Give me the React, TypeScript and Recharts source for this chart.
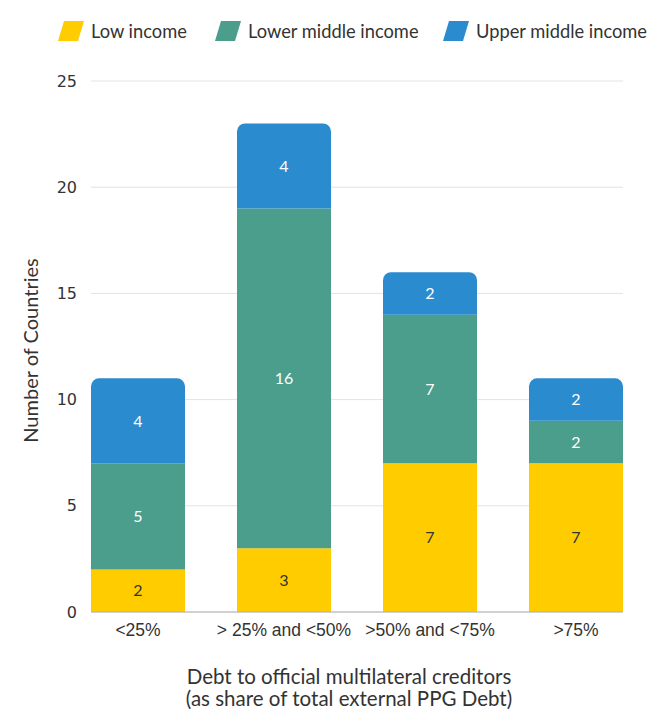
import React from 'react';
import { BarChart, Bar, XAxis, YAxis, CartesianGrid, LabelList } from 'recharts';

const categories = ['<25%', '> 25% and <50%', '>50% and <75%', '>75%'];
const lowIncome = [2, 3, 7, 7];
const lowerMiddle = [5, 16, 7, 2];
const upperMiddle = [4, 4, 2, 2];
const yTicks = [0, 5, 10, 15, 20, 25];

const seriesInfo = [
  { key: 'low', name: 'Low income', color: '#FFCC00', text: '#333333' },
  { key: 'lower', name: 'Lower middle income', color: '#4A9E8B', text: '#ffffff' },
  { key: 'upper', name: 'Upper middle income', color: '#2A8BCF', text: '#ffffff' },
];

const FONT = 'Lato, "Noto Sans", sans-serif';

export default function App() {
  const data = categories.map((c, i) => ({
    name: c,
    low: lowIncome[i],
    lower: lowerMiddle[i],
    upper: upperMiddle[i],
  }));

  const legendX = [50, 207, 435];

  return (
    <div style={{ position: 'relative', width: 650, height: 714, fontFamily: FONT }}>
      <div style={{ position: 'absolute', top: 0, left: 0, width: 650, height: 50 }}>
        {seriesInfo.map((s, i) => (
          <div
            key={s.key}
            style={{ position: 'absolute', left: legendX[i], top: 12, display: 'flex', alignItems: 'center' }}
          >
            <svg width={26} height={20} style={{ marginRight: 7 }}>
              <polygon points="6,0 26,0 20,20 0,20" fill={s.color} />
            </svg>
            <span style={{ fontSize: 18.3, color: '#333', whiteSpace: 'nowrap' }}>{s.name}</span>
          </div>
        ))}
      </div>
      <BarChart
        width={650}
        height={714}
        data={data}
        margin={{ top: 73, right: 35, bottom: 0, left: 0 }}
        style={{ fontFamily: FONT }}
      >
        <CartesianGrid vertical={false} stroke="#e3e3e3" />
        <XAxis
          dataKey="name"
          height={110}
          padding={{ left: -26, right: -26 }}
          axisLine={{ stroke: '#b0b0b0' }}
          tickLine={false}
          tickSize={0}
          tickMargin={12}
          tick={{ fontSize: 17.5, fill: '#333', fontFamily: '"Liberation Sans", Arial, sans-serif' }}
          label={({ viewBox }: any) => (
            <text
              x={341}
              y={viewBox.y + 72}
              textAnchor="middle"
              fontSize={20.5}
              fill="#333"
              fontFamily={FONT}
            >
              <tspan x={341} dy={0}>Debt to official multilateral creditors</tspan>
              <tspan x={341} dy={22}>(as share of total external PPG Debt)</tspan>
            </text>
          )}
        />
        <YAxis
          width={83}
          domain={[0, 25]}
          ticks={yTicks}
          axisLine={false}
          tickLine={false}
          tickSize={0}
          tickMargin={14}
          tick={{ fontSize: 16, fill: '#333', fontFamily: '"DejaVu Sans", sans-serif' }}
          label={({ viewBox }: any) => {
            const cx = viewBox.x + 22;
            const cy = viewBox.y + viewBox.height / 2 + 4;
            return (
              <text
                x={cx}
                y={cy}
                transform={`rotate(-90, ${cx}, ${cy})`}
                textAnchor="middle"
                dominantBaseline="central"
                fontSize={20}
                fill="#333"
                fontFamily={FONT}
              >
                Number of Countries
              </text>
            );
          }}
        />
        {seriesInfo.map((s, i) => (
          <Bar
            key={s.key}
            dataKey={s.key}
            name={s.name}
            stackId="a"
            fill={s.color}
            barSize={94}
            radius={i === seriesInfo.length - 1 ? [8, 8, 0, 0] : 0}
            isAnimationActive={false}
          >
            <LabelList dataKey={s.key} position="center" fill={s.text} fontSize={16} />
          </Bar>
        ))}
      </BarChart>
    </div>
  );
}
